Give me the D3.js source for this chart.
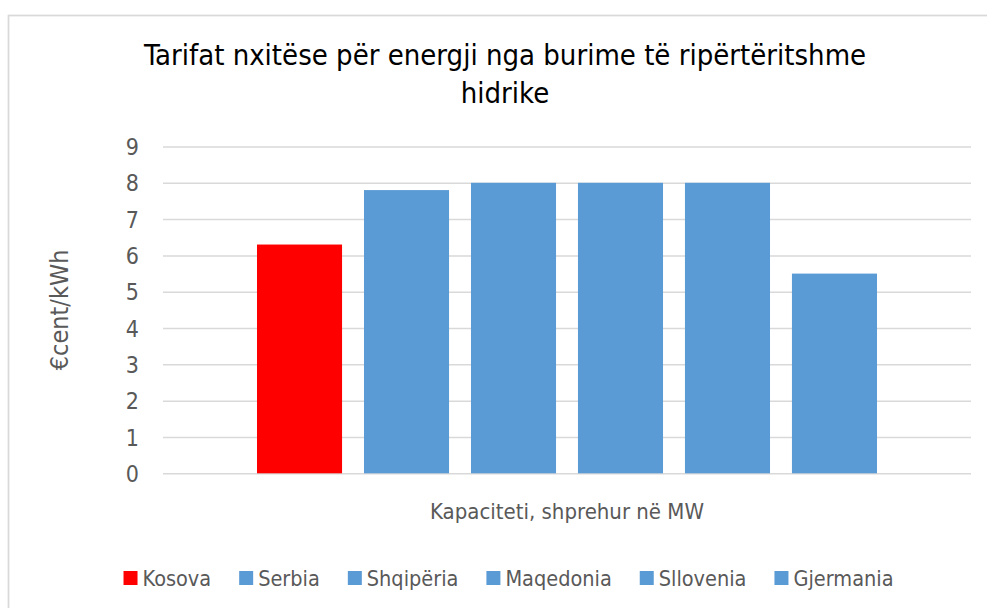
<!DOCTYPE html>
<html>
<head>
<meta charset="utf-8">
<script src="https://cdn.jsdelivr.net/npm/d3@7"></script>
<style>
    body { margin: 0; background: #fff; }
    text { font-family: "Liberation Sans Narrow", "DejaVu Sans Condensed", "Arial Narrow", sans-serif; }
</style>
</head>
<body>
<script>
(function(){

    //chart data
    var titleLines = ["Tarifat nxitëse për energji nga burime të ripërtëritshme", "hidrike"];
    var categories = [""]; //single unnamed category
    var seriesNames = ["Kosova", "Serbia", "Shqipëria", "Maqedonia", "Sllovenia", "Gjermania"];
    var seriesValues = [6.3, 7.8, 8, 8, 8, 5.5];
    var yTicks = [0, 1, 2, 3, 4, 5, 6, 7, 8, 9];
    var yTitle = "€cent/kWh";
    var xTitle = "Kapaciteti, shprehur në MW";

    var colors = ["#ff0000", "#5b9bd5", "#5b9bd5", "#5b9bd5", "#5b9bd5", "#5b9bd5"];

    //frame dimensions
    var width = 987,
        height = 608,
        plot = {left: 163, right: 971, top: 146.5, bottom: 473.3};

    var svg = d3.select("body")
        .append("svg")
        .attr("width", width)
        .attr("height", height);

    //chart border (right and bottom edges run off the picture)
    svg.append("rect")
        .attr("x", 8.5)
        .attr("y", 15.5)
        .attr("width", 1000)
        .attr("height", 620)
        .attr("fill", "#fff")
        .attr("stroke", "#d9d9d9")
        .attr("stroke-width", 1.75);

    //title
    svg.append("text")
        .attr("x", 505)
        .attr("y", 65)
        .attr("text-anchor", "middle")
        .style("font-size", "29px")
        .style("fill", "#000")
        .selectAll("tspan")
        .data(titleLines)
        .enter()
        .append("tspan")
        .attr("x", 505)
        .attr("dy", function(d, i){ return i == 0 ? 0 : 38; })
        .text(function(d){ return d; });

    //scales
    var yScale = d3.scaleLinear()
        .domain([0, 9])
        .range([plot.bottom, plot.top]);

    var x0 = d3.scaleBand()
        .domain(categories)
        .range([plot.left, plot.right])
        .paddingInner(0)
        .paddingOuter(0.1516);

    var x1 = d3.scaleBand()
        .domain(seriesNames)
        .range([0, x0.bandwidth()])
        .paddingInner(0.205)
        .paddingOuter(0);

    //gridlines
    var yAxis = d3.axisLeft(yScale)
        .tickValues(yTicks)
        .tickSize(-(plot.right - plot.left))
        .tickPadding(24)
        .tickFormat(d3.format("d"));

    var axis = svg.append("g")
        .attr("transform", "translate(" + plot.left + ",0)")
        .call(yAxis);

    axis.select(".domain").remove();
    axis.selectAll(".tick line")
        .attr("stroke", "#d9d9d9")
        .attr("stroke-width", 1.5);
    axis.selectAll(".tick text")
        .attr("fill", "#595959")
        .style("font-size", "23px")
        .attr("dy", "0.35em");

    //bars
    var group = svg.selectAll(".group")
        .data(categories)
        .enter()
        .append("g")
        .attr("class", "group")
        .attr("transform", function(d){ return "translate(" + x0(d) + ",0)"; });

    group.selectAll("rect")
        .data(seriesNames.map(function(name, i){ return {name: name, value: seriesValues[i], color: colors[i]}; }))
        .enter()
        .append("rect")
        .attr("x", function(d){ return x1(d.name); })
        .attr("width", x1.bandwidth())
        .attr("y", function(d){ return yScale(d.value); })
        .attr("height", function(d){ return plot.bottom - yScale(d.value); })
        .attr("fill", function(d){ return d.color; });

    //axis titles
    svg.append("text")
        .attr("transform", "translate(68," + ((plot.top + plot.bottom) / 2) + ") rotate(-90)")
        .attr("text-anchor", "middle")
        .style("font-size", "25px")
        .style("fill", "#595959")
        .text(yTitle);

    svg.append("text")
        .attr("x", (plot.left + plot.right) / 2)
        .attr("y", 519)
        .attr("text-anchor", "middle")
        .style("font-size", "22px")
        .style("fill", "#595959")
        .text(xTitle);

    //legend, laid out from measured text widths
    var legend = svg.append("g");
    var items = legend.selectAll("g")
        .data(seriesNames)
        .enter()
        .append("g");

    items.append("rect")
        .attr("y", 571)
        .attr("width", 14)
        .attr("height", 14)
        .attr("fill", function(d, i){ return colors[i]; });

    items.append("text")
        .attr("x", 19)
        .attr("y", 586)
        .style("font-size", "21.5px")
        .style("fill", "#595959")
        .text(function(d){ return d; });

    var pos = 0, offsets = [];
    items.each(function(){
        offsets.push(pos);
        pos += 19 + d3.select(this).select("text").node().getComputedTextLength() + 28;
    });
    var total = pos - 28,
        start = 508.5 - total / 2;
    items.attr("transform", function(d, i){ return "translate(" + (start + offsets[i]) + ",0)"; });

})();
</script>
</body>
</html>
